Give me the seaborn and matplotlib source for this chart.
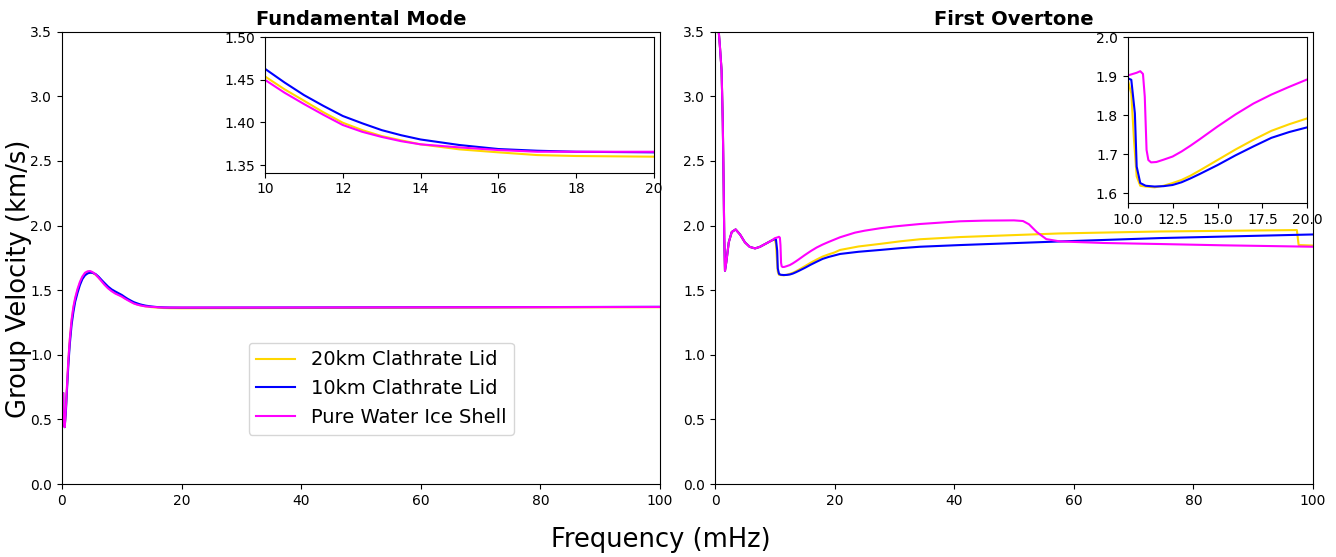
import numpy as np
import pandas as pd
import matplotlib
matplotlib.use("Agg")
import matplotlib.pyplot as plt
import seaborn as sns

labels = ["20km Clathrate Lid", "10km Clathrate Lid", "Pure Water Ice Shell"]
colors = ["#FFD700", "#0000FF", "#FF00FF"]

# ---------------- Fundamental mode ----------------
fund_freq = [0.2, 0.25, 0.45, 0.65, 0.8, 1.06, 1.3, 1.6, 1.9, 2.2, 2.6, 3.0, 3.4, 3.85, 4.3, 4.7,
             5.1, 5.6, 6.1, 6.6, 7.1, 7.7, 8.3, 8.9,
             10, 10.5, 11, 11.5, 12, 12.5, 13, 13.5, 14, 15, 16, 17, 18, 20, 40, 70, 100]
fund_20km = [0.70, 0.50, 0.44, 0.58, 0.72, 0.95, 1.11, 1.26, 1.36, 1.43, 1.50, 1.555, 1.595, 1.625, 1.638, 1.640,
             1.635, 1.620, 1.598, 1.572, 1.546, 1.518, 1.496, 1.478,
             1.454, 1.439, 1.4256, 1.412, 1.3997, 1.391, 1.384, 1.379, 1.3743, 1.3684, 1.3649, 1.3617,
             1.3606, 1.3598, 1.362, 1.365, 1.368]
fund_10km = [0.70, 0.50, 0.44, 0.56, 0.70, 0.92, 1.08, 1.23, 1.33, 1.41, 1.48, 1.540, 1.585, 1.615, 1.630, 1.635,
             1.634, 1.625, 1.605, 1.580, 1.556, 1.528, 1.506, 1.490,
             1.463, 1.447, 1.4322, 1.4195, 1.4076, 1.399, 1.391, 1.385, 1.380, 1.3735, 1.3688, 1.3668,
             1.3656, 1.3649, 1.366, 1.368, 1.371]
fund_pure = [0.70, 0.50, 0.44, 0.59, 0.73, 0.96, 1.12, 1.27, 1.37, 1.44, 1.51, 1.565, 1.605, 1.635, 1.646, 1.648,
             1.640, 1.622, 1.597, 1.570, 1.542, 1.514, 1.492, 1.474,
             1.450, 1.435, 1.4217, 1.409, 1.3970, 1.389, 1.383, 1.378, 1.3743, 1.3707, 1.3676, 1.3656,
             1.3656, 1.3656, 1.366, 1.368, 1.370]

# ---------------- First overtone ----------------
ot_early_freq = [0.45, 0.8, 1.1, 1.3, 1.45, 1.55, 1.67, 1.9, 2.3, 2.8, 3.45, 4.2, 5.0, 5.8,
                 6.7, 7.5, 8.5, 9.5]
ot_early_vel = [3.60, 3.40, 3.20, 2.80, 2.30, 1.90, 1.65, 1.72, 1.87, 1.95, 1.97, 1.93, 1.87, 1.835,
                1.823, 1.835, 1.860, 1.885]

ot20_freq = [10, 10.2, 10.35, 10.5, 10.7, 11, 11.5, 12, 12.5, 13, 13.5, 14, 15, 16, 17, 18, 19, 20,
             20.9, 24, 27.6, 31, 34.3, 41, 57.7, 74.4, 97.3, 97.6, 100]
ot20_vel = [1.891, 1.856, 1.737, 1.643, 1.619, 1.617, 1.615, 1.619, 1.626, 1.634, 1.645, 1.658, 1.685,
            1.712, 1.737, 1.760, 1.777, 1.792,
            1.811, 1.838, 1.858, 1.878, 1.894, 1.911, 1.939, 1.954, 1.965, 1.849, 1.845]

ot10_freq = [10, 10.2, 10.4, 10.5, 10.7, 11, 11.5, 12, 12.5, 13, 13.5, 14, 15, 16, 17, 18, 19, 20,
             20.9, 24, 27.6, 31, 34.3, 41, 57.7, 74.4, 100]
ot10_vel = [1.895, 1.891, 1.805, 1.668, 1.626, 1.619, 1.617, 1.618, 1.621, 1.628, 1.638, 1.649, 1.672,
            1.697, 1.720, 1.742, 1.757, 1.769,
            1.780, 1.797, 1.811, 1.825, 1.836, 1.849, 1.877, 1.903, 1.931]

otpure_freq = [10, 10.5, 10.7, 10.85, 10.95, 11.05, 11.15, 11.3, 11.6, 12, 12.5, 13, 13.5, 14, 15, 16,
               17, 18, 19, 20, 20.9, 23.4, 25, 27.6, 30, 34.3, 41, 45, 50, 51.5, 52.5, 53.8, 55.4,
               57.7, 65, 74.4, 85, 100]
otpure_vel = [1.902, 1.909, 1.913, 1.906, 1.848, 1.711, 1.685, 1.679, 1.680, 1.686, 1.694, 1.707, 1.722,
              1.738, 1.771, 1.802, 1.830, 1.853, 1.873, 1.892, 1.909, 1.945, 1.960, 1.979, 1.993,
              2.012, 2.033, 2.038, 2.040, 2.035, 2.010, 1.950, 1.895, 1.877, 1.865, 1.857, 1.847, 1.836]

fund_df = pd.concat([
    pd.DataFrame({"f": fund_freq, "v": fund_20km, "s": labels[0]}),
    pd.DataFrame({"f": fund_freq, "v": fund_10km, "s": labels[1]}),
    pd.DataFrame({"f": fund_freq, "v": fund_pure, "s": labels[2]}),
], ignore_index=True)

ot_df = pd.concat([
    pd.DataFrame({"f": ot_early_freq + ot20_freq, "v": ot_early_vel + ot20_vel, "s": labels[0]}),
    pd.DataFrame({"f": ot_early_freq + ot10_freq, "v": ot_early_vel + ot10_vel, "s": labels[1]}),
    pd.DataFrame({"f": ot_early_freq + otpure_freq, "v": ot_early_vel + otpure_vel, "s": labels[2]}),
], ignore_index=True)

W, H = 1336, 557
fig = plt.figure(figsize=(W / 100, H / 100), dpi=100)

def fr(x0, y0, x1, y1):
    return [x0 / W, 1 - y1 / H, (x1 - x0) / W, (y1 - y0) / H]

ax1 = fig.add_axes(fr(62, 31.7, 660, 484))
ax2 = fig.add_axes(fr(715, 31.7, 1313, 484))
in1 = fig.add_axes(fr(265, 37.3, 654, 172.7))
in2 = fig.add_axes(fr(1127.7, 37.3, 1307.3, 203.3))

def draw(ax, df, legend=False):
    for lab, col in zip(labels, colors):
        sub = df[df["s"] == lab]
        sns.lineplot(data=sub, x="f", y="v", ax=ax, color=col, linewidth=1.5,
                     label=lab if legend else None, sort=False, estimator=None)
    ax.set_xlabel("")
    ax.set_ylabel("")

draw(ax1, fund_df, legend=True)
draw(ax2, ot_df)
draw(in1, fund_df)
draw(in2, ot_df)

for ax in (ax1, ax2):
    ax.set_xlim(0, 100)
    ax.set_ylim(0, 3.5)
    ax.set_xticks([0, 20, 40, 60, 80, 100])
    ax.set_yticks(np.arange(0, 3.51, 0.5))
    ax.tick_params(labelsize=10)

ax1.set_title("Fundamental Mode", fontsize=14, fontweight="bold", pad=5)
ax2.set_title("First Overtone", fontsize=14, fontweight="bold", pad=5)

in1.set_xlim(10, 20)
in1.set_ylim(1.341, 1.50)
in1.set_xticks([10, 12, 14, 16, 18, 20])
in1.set_yticks([1.35, 1.40, 1.45, 1.50])
in1.tick_params(labelsize=10)

in2.set_xlim(10, 20)
in2.set_ylim(1.574, 2.0)
in2.set_xticks([10.0, 12.5, 15.0, 17.5, 20.0])
in2.set_yticks([1.6, 1.7, 1.8, 1.9, 2.0])
in2.tick_params(labelsize=10)

leg = ax1.legend(loc="center", bbox_to_anchor=(0.534, 0.211), fontsize=14,
                 frameon=True, handlelength=2.0)

fig.text(660.7 / W, 1 - 540 / H, "Frequency (mHz)", fontsize=18.5, ha="center", va="center")
fig.text(19.5 / W, 1 - 278.5 / H, "Group Velocity (km/s)", fontsize=18.5, ha="center",
         va="center", rotation=90)

fig.savefig("out.png", dpi=100)
